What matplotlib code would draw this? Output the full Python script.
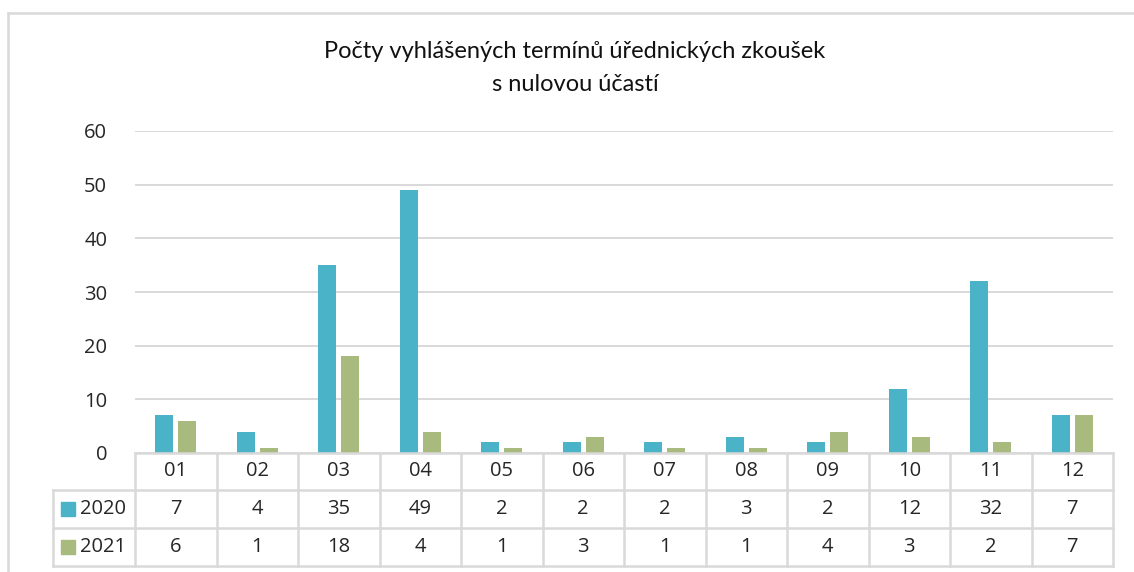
import matplotlib.pyplot as plt
import matplotlib.transforms as mtransforms
from matplotlib.lines import Line2D
from matplotlib.patches import Rectangle
import numpy as np

# donnees
mesice = ["01", "02", "03", "04", "05", "06", "07", "08", "09", "10", "11", "12"]
roky = ["2020", "2021"]
hodnoty_2020 = [7, 4, 35, 49, 2, 2, 2, 3, 2, 12, 32, 7]
hodnoty_2021 = [6, 1, 18, 4, 1, 3, 1, 1, 4, 3, 2, 7]
osa_y = [0, 10, 20, 30, 40, 50, 60]

barvy = ["#4BB3C8", "#A8BA7E"]
seda = "#D9D9D9"
text_barva = "#262626"
pismo = "Open Sans"

W, H = 1134, 572
fig = plt.figure(figsize=(W / 100, H / 100), dpi=100)

def fx(px):
    return px / W

def fy(py):
    return 1 - py / H

ax = fig.add_axes([fx(135), fy(453), fx(1113) - fx(135), fy(131) - fy(453)])

x = np.arange(len(mesice))
ax.bar(x - 0.14, hodnoty_2020, width=0.22, color=barvy[0], zorder=3)
ax.bar(x + 0.14, hodnoty_2021, width=0.22, color=barvy[1], zorder=3)

ax.set_xlim(-0.5, len(mesice) - 0.5)
ax.set_ylim(0, 60)
ax.set_yticks(osa_y)
ax.set_yticklabels([str(v) for v in osa_y], fontsize=14.5, color=text_barva, family=pismo)
ax.tick_params(axis="y", length=0, pad=20)
ax.set_xticks([])
ax.grid(axis="y", color=seda, linewidth=1.4, zorder=0)
for s in ax.spines.values():
    s.set_visible(False)

# titulek
fig.text(fx(575), fy(51), "Počty vyhlášených termínů úřednických zkoušek",
         ha="center", va="center", fontsize=17, family="Lato", color="#111111")
fig.text(fx(575), fy(85), "s nulovou účastí",
         ha="center", va="center", fontsize=17, family="Lato", color="#111111")

# tabulka pod grafem
tr = mtransforms.blended_transform_factory(ax.transData, fig.transFigure)
radky = [453, 490, 528, 566]
lw = 1.8

# vodorovne cary
fig.add_artist(Line2D([fx(135), fx(1113)], [fy(453), fy(453)], color=seda, lw=lw))
for r in radky[1:]:
    fig.add_artist(Line2D([fx(53), fx(1113)], [fy(r), fy(r)], color=seda, lw=lw))
# svisle cary
for i in range(len(mesice) + 1):
    fig.add_artist(Line2D([i - 0.5, i - 0.5], [fy(453), fy(566)], color=seda, lw=lw, transform=tr))
fig.add_artist(Line2D([fx(53), fx(53)], [fy(490), fy(566)], color=seda, lw=lw))

stredy = [(radky[k] + radky[k + 1]) / 2 for k in range(3)]
for i, m in enumerate(mesice):
    fig.text(i, fy(stredy[0]), m, transform=tr, ha="center", va="center",
             fontsize=14.5, family=pismo, color=text_barva)
    fig.text(i, fy(stredy[1]), str(hodnoty_2020[i]), transform=tr, ha="center", va="center",
             fontsize=14.5, family=pismo, color=text_barva)
    fig.text(i, fy(stredy[2]), str(hodnoty_2021[i]), transform=tr, ha="center", va="center",
             fontsize=14.5, family=pismo, color=text_barva)

# legenda v tabulce
for k, rok in enumerate(roky):
    yc = stredy[k + 1]
    fig.add_artist(Rectangle((fx(61), fy(yc + 7)), fx(14), fy(yc - 7) - fy(yc + 7),
                             color=barvy[k], transform=fig.transFigure))
    fig.text(fx(80), fy(yc), rok, ha="left", va="center", fontsize=14.5,
             family=pismo, color=text_barva)

# ramecek grafu
fig.add_artist(Line2D([fx(8), fx(8)], [fy(13), fy(572)], color=seda, lw=1.8))
fig.add_artist(Line2D([fx(8), fx(1134)], [fy(13), fy(13)], color=seda, lw=1.8))

fig.savefig("out.png", dpi=100)
